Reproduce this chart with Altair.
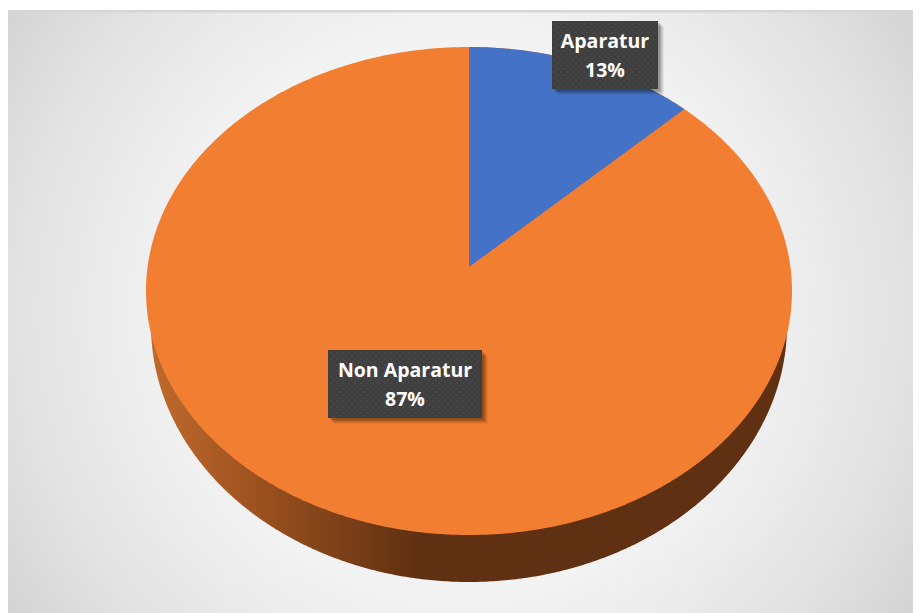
import numpy as np
import pandas as pd
import altair as alt

categories = ["Aparatur", "Non Aparatur"]
shares = [12.7, 87.3]
box_left = [552, 328]
box_right = [658, 482]
box_top = [21, 350]
box_bottom = [89, 418]

BLUE = "#4472c6"
ORANGE = "#f27e32"
BOX = "#3f3f3f"
FONT = "Open Sans"

# Pie geometry, in reference pixels
cx, cy, rx, ry = 469.0, 291.0, 323.0, 244.0
wall_cy, wall_rx, wall_ry = 325.0, 318.0, 257.0
tilt = 24.0 / 244.0  # perspective shift of the pie's apex

W, H = 905, 605
x_scale = alt.Scale(domain=[8, 913], nice=False, zero=False)
y_scale = alt.Scale(domain=[613, 8], nice=False, zero=False)
X = lambda f: alt.X(f, type="quantitative", scale=x_scale, axis=None)
Y = lambda f: alt.Y(f, type="quantitative", scale=y_scale, axis=None)


def ellipse(c_y, r_x, r_y):
    t = np.linspace(0, np.pi, 361)
    return pd.DataFrame({"x": cx - r_x * np.cos(t),
                         "y": c_y - r_y * np.sin(t),
                         "y2": c_y + r_y * np.sin(t)})


def slice_frame(share):
    a = 2 * np.pi * share / 100
    u, v = np.sin(a), np.cos(a)
    d = 1 + tilt * v
    end = np.arctan2(u * np.sqrt(1 - tilt ** 2) / d, (v + tilt) / d)
    phi = np.linspace(0, end, 120)
    xs = cx + rx * np.sin(phi)
    top = cy - ry * np.cos(phi)
    apex = cy - ry * tilt
    low = apex + (top[-1] - apex) * (xs - cx) / (xs[-1] - cx)
    return pd.DataFrame({"x": xs, "y": top, "y2": low})


def rect_frame(df):
    return alt.Chart(df).encode(x=X("l"), x2="r", y=Y("t"), y2="b")


boxes = pd.DataFrame({"l": box_left, "r": box_right, "t": box_top, "b": box_bottom})
frame = pd.DataFrame({"l": [8], "r": [913], "t": [10], "b": [613]})
strip = pd.DataFrame({"l": [8], "r": [913], "t": [10], "b": [12.5]})

background = rect_frame(frame).mark_rect(
    color=alt.Gradient(
        gradient="radial",
        stops=[alt.GradientStop(color="#ffffff", offset=0),
               alt.GradientStop(color="#f2f2f2", offset=0.45),
               alt.GradientStop(color="#e3e3e3", offset=0.68),
               alt.GradientStop(color="#c6c6c6", offset=1)],
        x1=0.5, y1=0.5, x2=0.5, y2=0.5, r1=0, r2=0.71))
top_strip = rect_frame(strip).mark_rect(color="#d6d6d6")

wall = alt.Chart(ellipse(wall_cy, wall_rx, wall_ry)).mark_area(
    orient="vertical",
    color=alt.Gradient(
        gradient="linear",
        stops=[alt.GradientStop(color="#c06a2c", offset=0),
               alt.GradientStop(color="#a05420", offset=0.15),
               alt.GradientStop(color="#5f3011", offset=0.42),
               alt.GradientStop(color="#5f3011", offset=1)],
        x1=0, y1=0, x2=1, y2=0)
).encode(x=X("x"), y=Y("y"), y2="y2")

body = alt.Chart(ellipse(cy, rx, ry)).mark_area(orient="vertical", color=ORANGE).encode(
    x=X("x"), y=Y("y"), y2="y2")
blue = alt.Chart(slice_frame(shares[0])).mark_area(orient="vertical", color=BLUE).encode(
    x=X("x"), y=Y("y"), y2="y2")

# soft drop shadow under the label boxes
shadows = []
for off, op in [(6, 0.05), (5, 0.07), (4, 0.09), (3, 0.11), (2, 0.12)]:
    s = boxes.copy()
    s[["l", "r"]] += off
    s[["t", "b"]] += off
    shadows.append(rect_frame(s).mark_rect(color="#000000", opacity=op))

box_marks = rect_frame(boxes).mark_rect(color=BOX)

# dotted texture of the label boxes
dots = []
for l, r, t, b in zip(box_left, box_right, box_top, box_bottom):
    for j, yy in enumerate(np.arange(t + 3, b, 3.0)):
        for xx in np.arange(l + 3 + (j % 2) * 3, r - 1, 6.0):
            dots.append({"x": xx, "y": yy})
dot_marks = alt.Chart(pd.DataFrame(dots)).mark_square(
    color="#505050", size=3, opacity=0.8, filled=True).encode(x=X("x"), y=Y("y"))

rows = []
for name, share, l, r, t, b in zip(categories, shares, box_left, box_right, box_top, box_bottom):
    rows.append({"x": (l + r) / 2, "y": t + 20.7, "label": name})
    rows.append({"x": (l + r) / 2, "y": t + 50.2, "label": f"{round(share)}%"})
labels = alt.Chart(pd.DataFrame(rows)).mark_text(
    color="white", font=FONT, fontWeight="bold", fontSize=19.5, baseline="middle", align="center"
).encode(x=X("x"), y=Y("y"), text="label:N")

chart = alt.layer(background, top_strip, wall, body, blue, *shadows, box_marks, dot_marks, labels).properties(
    width=W, height=H, padding=0, autosize=alt.AutoSizeParams(type="none"), background="white"
).configure_view(stroke=None)

chart.save("out.html", embed_options={"renderer": "svg", "actions": False})
